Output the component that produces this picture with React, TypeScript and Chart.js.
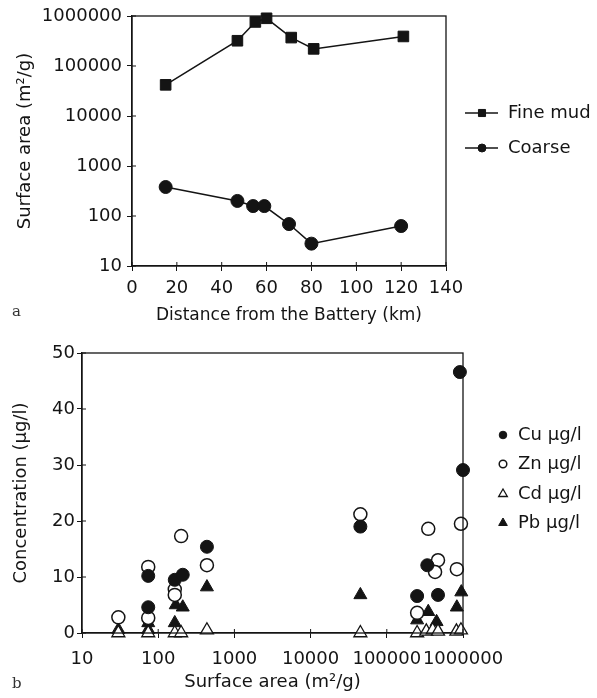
import React, { useEffect, useRef } from "react";
import { Chart, registerables } from "chart.js";
import { drawPoint } from "chart.js/helpers";

Chart.register(...registerables);

const FONT = "'DejaVu Sans', 'Liberation Sans', Arial, sans-serif";
const INK = "#141414";

// ---------- panel a ----------
const distanceTicks = [0, 20, 40, 60, 80, 100, 120, 140];
const areaTicks = [10, 100, 1000, 10000, 100000, 1000000];
const fineMudKm = [15, 47, 55, 60, 71, 81, 121];
const fineMudArea = [42000, 320000, 760000, 900000, 370000, 220000, 390000];
const coarseKm = [15, 47, 54, 59, 70, 80, 120];
const coarseArea = [380, 200, 158, 158, 69, 28, 63];

// ---------- panel b ----------
const surfaceTicks = [10, 100, 1000, 10000, 100000, 1000000];
const concTicks = [0, 10, 20, 30, 40, 50];
const cuArea = [74, 74, 165, 210, 436, 45000, 340000, 250000, 470000, 910000, 1000000];
const cuConc = [10.2, 4.6, 9.5, 10.4, 15.4, 19.0, 12.1, 6.6, 6.8, 46.6, 29.1];
const znArea = [30, 74, 74, 165, 165, 200, 436, 45000, 350000, 470000, 430000, 250000, 830000, 940000];
const znConc = [2.8, 11.8, 2.7, 7.8, 6.8, 17.3, 12.1, 21.2, 18.6, 13.0, 10.9, 3.6, 11.4, 19.5];
const cdArea = [30, 74, 165, 200, 436, 45000, 250000, 330000, 400000, 470000, 820000, 940000];
const cdConc = [0, 0, 0, 0, 0.5, 0, 0, 0.3, 0.5, 0.3, 0.3, 0.5];
const pbArea = [30, 74, 74, 165, 170, 210, 436, 45000, 250000, 350000, 450000, 830000, 950000];
const pbConc = [0.6, 1.8, 0.6, 1.8, 5.0, 4.6, 8.2, 6.8, 2.3, 3.8, 2.0, 4.6, 7.3];

const pairs = (xs: number[], ys: number[]) => xs.map((x, i) => ({ x, y: ys[i] }));

const framePlugin = {
  id: "frame",
  afterDatasetsDraw(chart: any) {
    const { ctx, chartArea: a } = chart;
    ctx.save();
    ctx.strokeStyle = INK;
    ctx.lineWidth = 1.3;
    ctx.strokeRect(a.left, a.top, a.right - a.left, a.bottom - a.top);
    ctx.restore();
  },
};

const innerTicksPlugin = {
  id: "innerTicks",
  afterDatasetsDraw(chart: any) {
    const { ctx, chartArea: a } = chart;
    const xs = chart.scales.x;
    const ys = chart.scales.y;
    ctx.save();
    ctx.strokeStyle = INK;
    ctx.lineWidth = 1;
    ctx.beginPath();
    xs.ticks.forEach((t: any) => {
      const px = xs.getPixelForValue(t.value);
      ctx.moveTo(px, a.bottom);
      ctx.lineTo(px, a.bottom - 4);
    });
    ys.ticks.forEach((t: any) => {
      const py = ys.getPixelForValue(t.value);
      ctx.moveTo(a.left, py);
      ctx.lineTo(a.left + 4, py);
    });
    ctx.stroke();
    ctx.restore();
  },
};

const sideLegendPlugin = {
  id: "sideLegend",
  afterDraw(chart: any, _args: any, opts: any) {
    const { ctx } = chart;
    ctx.save();
    ctx.font = `18px ${FONT}`;
    ctx.textBaseline = "middle";
    ctx.textAlign = "left";
    chart.data.datasets.forEach((ds: any, i: number) => {
      const y = opts.ys[i];
      if (opts.lineFrom != null) {
        ctx.strokeStyle = INK;
        ctx.lineWidth = 1.5;
        ctx.beginPath();
        ctx.moveTo(opts.lineFrom, y);
        ctx.lineTo(opts.lineTo, y);
        ctx.stroke();
      }
      ctx.fillStyle = ds.pointBackgroundColor;
      ctx.strokeStyle = ds.pointBorderColor;
      ctx.lineWidth = ds.pointBorderWidth;
      drawPoint(
        ctx,
        { pointStyle: ds.pointStyle, radius: opts.radii[i], borderWidth: ds.pointBorderWidth, rotation: 0 },
        opts.markerX,
        y
      );
      ctx.fillStyle = INK;
      ctx.fillText(ds.label, opts.textX, y);
    });
    ctx.restore();
  },
};

const font = { family: FONT, size: 18 };
const fixedTicks = (vals: number[]) => (s: any) => {
  s.ticks = vals.map((v) => ({ value: v }));
};

function PanelA() {
  const ref = useRef<HTMLCanvasElement>(null);
  useEffect(() => {
    const chart = new Chart(ref.current as HTMLCanvasElement, {
      type: "line",
      data: {
        datasets: [
          {
            label: "Fine mud",
            data: pairs(fineMudKm, fineMudArea),
            borderColor: INK,
            borderWidth: 1.5,
            pointStyle: "rect",
            pointRadius: 7.5,
            pointBackgroundColor: INK,
            pointBorderColor: INK,
            pointBorderWidth: 1,
            tension: 0,
            clip: false,
          } as any,
          {
            label: "Coarse",
            data: pairs(coarseKm, coarseArea),
            borderColor: INK,
            borderWidth: 1.5,
            pointStyle: "circle",
            pointRadius: 6.5,
            pointBackgroundColor: INK,
            pointBorderColor: INK,
            pointBorderWidth: 1,
            tension: 0,
            clip: false,
          } as any,
        ],
      },
      options: {
        animation: false,
        responsive: false,
        devicePixelRatio: 1,
        layout: { padding: { left: 4, right: 151, top: 16, bottom: 0 } },
        plugins: {
          legend: { display: false },
          tooltip: { enabled: false },
          sideLegend: { ys: [113, 148], lineFrom: 465, lineTo: 498, markerX: 482, textX: 508, radii: [5, 4] },
        } as any,
        scales: {
          x: {
            type: "linear",
            min: 0,
            max: 140,
            afterBuildTicks: fixedTicks(distanceTicks),
            afterFit: (s: any) => {
              s.height = 64;
            },
            ticks: { font, color: INK, padding: 7, autoSkip: false, maxRotation: 0, callback: (v: any) => String(v) },
            grid: { drawOnChartArea: false, tickLength: 5, color: INK },
            border: { color: INK, width: 1.3 },
            title: {
              display: true,
              text: "Distance from the Battery (km)",
              font: { family: FONT, size: 17 },
              color: INK,
              padding: { top: 0, bottom: 4 },
            },
          },
          y: {
            type: "logarithmic",
            min: 10,
            max: 1000000,
            afterBuildTicks: fixedTicks(areaTicks),
            afterFit: (s: any) => {
              s.width = 128;
            },
            ticks: { font, color: INK, padding: 5, autoSkip: false, callback: (v: any) => String(v) },
            grid: { drawOnChartArea: false, tickLength: 5, color: INK },
            border: { color: INK, width: 1.3 },
            title: {
              display: true,
              text: "Surface area (m²/g)",
              font,
              color: INK,
              padding: { top: 11, bottom: 0 },
            },
          },
        },
      },
      plugins: [framePlugin, innerTicksPlugin, sideLegendPlugin],
    });
    return () => chart.destroy();
  }, []);
  return <canvas ref={ref} width={597} height={330} style={{ display: "block" }} />;
}

function PanelB() {
  const ref = useRef<HTMLCanvasElement>(null);
  useEffect(() => {
    const common = { showLine: false, clip: false };
    const chart = new Chart(ref.current as HTMLCanvasElement, {
      type: "scatter",
      data: {
        datasets: [
          {
            ...common,
            label: "Cu µg/l",
            data: pairs(cuArea, cuConc),
            pointStyle: "circle",
            pointRadius: 6.5,
            pointBackgroundColor: INK,
            pointBorderColor: INK,
            pointBorderWidth: 1,
          } as any,
          {
            ...common,
            label: "Zn µg/l",
            data: pairs(znArea, znConc),
            pointStyle: "circle",
            pointRadius: 6.5,
            pointBackgroundColor: "#ffffff",
            pointBorderColor: INK,
            pointBorderWidth: 1.5,
          } as any,
          {
            ...common,
            label: "Cd µg/l",
            data: pairs(cdArea, cdConc),
            pointStyle: "triangle",
            pointRadius: 7.5,
            pointBackgroundColor: "#ffffff",
            pointBorderColor: INK,
            pointBorderWidth: 1.3,
          } as any,
          {
            ...common,
            label: "Pb µg/l",
            data: pairs(pbArea, pbConc),
            pointStyle: "triangle",
            pointRadius: 7.5,
            pointBackgroundColor: INK,
            pointBorderColor: INK,
            pointBorderWidth: 1,
          } as any,
        ],
      },
      options: {
        animation: false,
        responsive: false,
        devicePixelRatio: 1,
        layout: { padding: { left: 4, right: 134, top: 23, bottom: 0 } },
        plugins: {
          legend: { display: false },
          tooltip: { enabled: false },
          sideLegend: { ys: [105, 134, 164, 193], markerX: 503, textX: 518, radii: [3.8, 3.8, 5, 5] },
        } as any,
        scales: {
          x: {
            type: "logarithmic",
            min: 10,
            max: 1000000,
            afterBuildTicks: fixedTicks(surfaceTicks),
            afterFit: (s: any) => {
              s.height = 65;
            },
            ticks: { font, color: INK, padding: 11, autoSkip: false, maxRotation: 0, callback: (v: any) => String(v) },
            grid: { drawOnChartArea: false, tickLength: 5, color: INK },
            border: { color: INK, width: 1.3 },
            title: {
              display: true,
              text: "Surface area (m²/g)",
              font,
              color: INK,
              padding: { top: 0, bottom: 5 },
            },
          },
          y: {
            type: "linear",
            min: 0,
            max: 50,
            afterBuildTicks: fixedTicks(concTicks),
            afterFit: (s: any) => {
              s.width = 78;
            },
            ticks: { font, color: INK, padding: 2, autoSkip: false, callback: (v: any) => String(v) },
            grid: { drawOnChartArea: false, tickLength: 5, color: INK },
            border: { color: INK, width: 1.3 },
            title: {
              display: true,
              text: "Concentration (µg/l)",
              font,
              color: INK,
              padding: { top: 7, bottom: 0 },
            },
          },
        },
      },
      plugins: [framePlugin, innerTicksPlugin, sideLegendPlugin],
    });
    return () => chart.destroy();
  }, []);
  return <canvas ref={ref} width={597} height={368} style={{ display: "block" }} />;
}

export default function App() {
  const letter: React.CSSProperties = {
    position: "absolute",
    left: 12,
    fontFamily: "'DejaVu Serif', serif",
    fontSize: 15,
    color: "#333",
    lineHeight: "16px",
  };
  return (
    <div style={{ position: "absolute", left: 0, top: 0, width: 597, height: 698, background: "#fff" }}>
      <PanelA />
      <PanelB />
      <span style={{ ...letter, top: 303 }}>a</span>
      <span style={{ ...letter, top: 675 }}>b</span>
    </div>
  );
}
